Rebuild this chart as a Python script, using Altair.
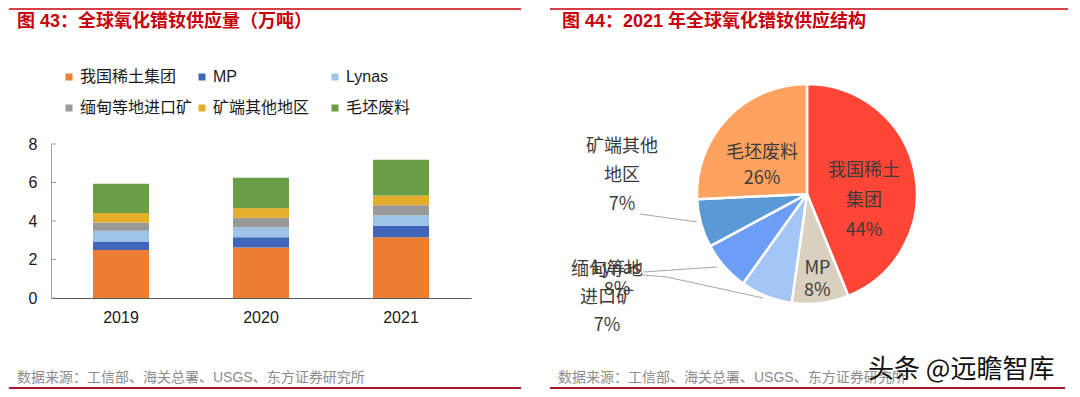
import altair as alt
import pandas as pd

# ---------------- data ----------------
years = ["2019", "2020", "2021"]
series = ["我国稀土集团", "MP", "Lynas", "缅甸等地进口矿", "矿端其他地区", "毛坯废料"]
china = [2.50, 2.62, 3.15]
mp = [0.43, 0.53, 0.60]
lynas = [0.56, 0.52, 0.55]
myanmar = [0.43, 0.50, 0.52]
other_mine = [0.50, 0.49, 0.51]
scrap = [1.52, 1.59, 1.85]
y_ticks = [0, 2, 4, 6, 8]

pie_labels = ["我国稀土\n集团", "MP", "Lynas", "缅甸等地\n进口矿", "矿端其他\n地区", "毛坯废料"]

bar_colors = ["#ED7D31", "#3F66B8", "#9DC3E6", "#999999", "#E5AD2B", "#6A9E46"]
pie_colors = ["#FF4535", "#DAD0BF", "#A3C6F7", "#6D9EF6", "#5A98D6", "#FFA25F"]

title_left = "图 43：全球氧化镨钕供应量（万吨）"
title_right = "图 44：2021 年全球氧化镨钕供应结构"
source_text = "数据来源：工信部、海关总署、USGS、东方证券研究所"
watermark = "头条 @远瞻智库"

all_vals = [china, mp, lynas, myanmar, other_mine, scrap]
bar_rows = []
for i, (name, vals) in enumerate(zip(series, all_vals)):
    for y, v in zip(years, vals):
        bar_rows.append({"year": y, "series": name, "idx": i, "value": v})
bar_df = pd.DataFrame(bar_rows)
tick_df = pd.DataFrame({"value": y_ticks})

pie_df = pd.DataFrame({
    "name": series,
    "label": pie_labels,
    "idx": list(range(len(series))),
    "val": [vals[2] for vals in all_vals],
})

CJK = "Liberation Sans, Noto Sans CJK SC"
RED = "#C8000A"
one = alt.Data(values=[{}])


def txt(s, x, y, size, color, weight="normal", align="left", font=CJK):
    return alt.Chart(one).mark_text(
        align=align, baseline="middle", fontSize=size, fontWeight=weight,
        color=color, font=font
    ).encode(x=alt.value(x), y=alt.value(y), text=alt.value(s))


def hline(x1, x2, y, color, w):
    return alt.Chart(one).mark_rule(color=color, strokeWidth=w).encode(
        x=alt.value(x1), x2=alt.value(x2), y=alt.value(y))


def seg(x1, y1, x2, y2):
    return alt.Chart(one).mark_rule(color="#A6A6A6", strokeWidth=1).encode(
        x=alt.value(x1), y=alt.value(y1), x2=alt.value(x2), y2=alt.value(y2))


# ---------------- left panel ----------------
y_axis = alt.Axis(values=y_ticks, grid=False, ticks=False, labelFontSize=16,
                  labelFont="Liberation Sans", labelColor="#1a1a1a",
                  domainColor="#A0A0A0", labelPadding=14)
y_scale = alt.Scale(domain=[0, 8])

bars = alt.Chart(bar_df).mark_bar().encode(
    x=alt.X("year:N", sort=years, title=None,
            scale=alt.Scale(paddingInner=0.6, paddingOuter=0.3),
            axis=alt.Axis(labelAngle=0, labelFontSize=16, labelFont="Liberation Sans",
                          labelColor="#1a1a1a", ticks=False, domainColor="#595959",
                          labelPadding=11)),
    y=alt.Y("value:Q", stack="zero", title=None, scale=y_scale, axis=y_axis),
    color=alt.Color("series:N", scale=alt.Scale(domain=series, range=bar_colors),
                    legend=alt.Legend(orient="none", legendX=10, legendY=-75, columns=3,
                                      direction="horizontal",
                                      title=None, symbolType="square", symbolSize=49,
                                      symbolStrokeWidth=0, labelFontSize=16, labelFont=CJK,
                                      labelColor="#1a1a1a", columnPadding=1, rowPadding=15,
                                      gridAlign="all", labelOffset=3, padding=0,
                                      labelLimit=0)),
    order=alt.Order("idx:Q", sort="ascending"),
)

inner_ticks = alt.Chart(tick_df).mark_rule(color="#A0A0A0", strokeWidth=1).encode(
    y=alt.Y("value:Q", title=None, scale=y_scale, axis=y_axis),
    x=alt.value(0), x2=alt.value(5),
)

left = alt.layer(
    bars,
    inner_ticks,
    hline(-42, 470, -135, RED, 1.5),
    txt(title_left, -34, -122, 18, RED, weight="bold"),
    hline(-42, 470, 244, "#A8162A", 2),
    txt(source_text, -34, 234, 14, "#8C8C8C"),
).properties(width=420, height=154)

# ---------------- right panel ----------------
CX, CY, R = 257, 50, 110
base = alt.Chart(pie_df).transform_joinaggregate(
    total="sum(val)"
).transform_calculate(
    txt="datum.label + '\\n' + format(datum.val / datum.total, '.0%')"
)

arcs = base.mark_arc(outerRadius=R, stroke="white", strokeWidth=2.5).encode(
    x=alt.value(CX), y=alt.value(CY),
    theta=alt.Theta("val:Q", stack=True),
    color=alt.Color("name:N", scale=alt.Scale(domain=series, range=pie_colors), legend=None),
    order=alt.Order("idx:Q", sort="ascending"),
)


def inside_label(name, radius, dy, lh):
    return base.mark_text(radius=radius, dy=dy, fontSize=18, lineBreak="\n", lineHeight=lh,
                          font="Noto Sans CJK SC", color="#3C3C3C", align="center",
                          baseline="middle").encode(
        x=alt.value(CX), y=alt.value(CY),
        theta=alt.Theta("val:Q", stack=True),
        order=alt.Order("idx:Q", sort="ascending"),
        text=alt.condition(alt.datum.name == name, alt.Text("txt:N"), alt.value("")),
    )


def outside_label(name, x, y, lh):
    return base.mark_text(fontSize=18, lineBreak="\n", lineHeight=lh,
                          font="Noto Sans CJK SC", color="#3C3C3C", align="center",
                          baseline="middle").encode(
        x=alt.value(x), y=alt.value(y),
        text=alt.condition(alt.datum.name == name, alt.Text("txt:N"), alt.value("")),
    )


right = alt.layer(
    arcs,
    inside_label("我国稀土集团", 58, -12, 30),
    inside_label("毛坯废料", 62, 2, 26),
    inside_label("MP", 85, -9, 22),
    seg(90, 70, 147, 78),
    seg(93, 128, 167, 123),
    seg(93, 131, 117, 133),
    seg(117, 133, 213, 154),
    outside_label("矿端其他地区", 72, 3, 29),
    outside_label("Lynas", 67, 125, 21),
    outside_label("缅甸等地进口矿", 57, 126, 28),
    hline(0, 518, -135, RED, 1.5),
    txt(title_right, 12, -122, 18, RED, weight="bold"),
    hline(0, 515, 244, "#A8162A", 2),
    txt(source_text, 8, 234, 14, "#8C8C8C"),
    txt(watermark, 318, 226, 26, "#111111", font="Noto Sans CJK SC"),
).properties(width=518, height=154)

chart = alt.hconcat(left, right, spacing=27).resolve_scale(
    color="independent"
).properties(padding=0, background="white").configure_view(stroke=None)

chart.save("out.html", embed_options={"renderer": "svg", "actions": False})
